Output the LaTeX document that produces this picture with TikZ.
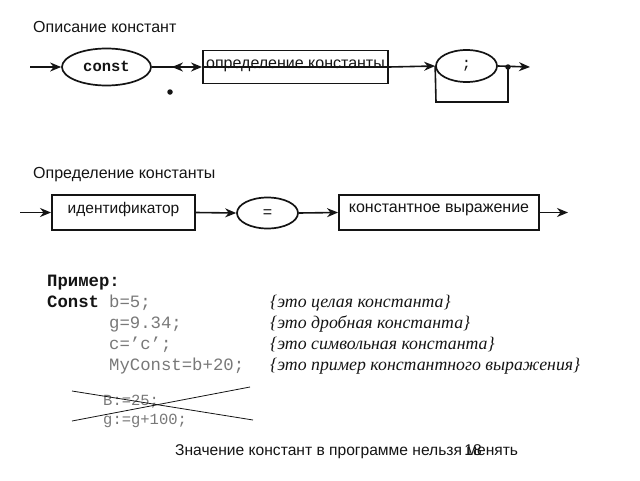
\documentclass[tikz,border=0pt]{standalone}
\usepackage{fontspec}
\setmainfont{Liberation Sans}
\newfontfamily\monof{Liberation Mono}
\newfontfamily\serift{Liberation Serif}
\usetikzlibrary{shapes.geometric,arrows.meta,decorations.markings}
\definecolor{codegray}{RGB}{120,120,120}
\definecolor{ink}{RGB}{20,20,20}
\begin{document}
\begin{tikzpicture}[x=1pt,y=-1pt,
  tip/.tip={Stealth[length=11pt,width=9pt,inset=3.5pt]},
  conn/.style={draw=ink,line width=1.6pt,-tip},
  plain/.style={draw=ink,line width=1.6pt},
  boxn/.style={draw=ink,line width=1.9pt,rectangle,inner sep=0pt},
  ell/.style={draw=ink,line width=1.7pt,ellipse,inner sep=0pt},
  lbl/.style={font=\fontsize{16}{19}\selectfont,text=ink,inner sep=0pt},
  code/.style={font=\monof\fontsize{17.3}{20}\selectfont,text=codegray,anchor=base west,inner sep=0pt},
  codeb/.style={font=\monof\bfseries\fontsize{17.3}{20}\selectfont,text=ink,anchor=base west,inner sep=0pt},
  cmt/.style={font=\serift\itshape\fontsize{17.8}{20}\selectfont,text=ink,anchor=base west,inner sep=0pt},
  small/.style={font=\monof\fontsize{15.5}{18}\selectfont,text=codegray,anchor=base west,inner sep=0pt},
  dotn/.style={circle,fill=ink,inner sep=0pt,minimum size=5.5pt}
]
\useasboundingbox (0,0) rectangle (640,480);

% ---- heading 1
\node[lbl,anchor=base west] (h1) at (33,32) {Описание констант};

% ---- row 1
\node[ell,minimum width=89pt,minimum height=37pt] (const) at (106.5,67) {};
\node[font=\monof\bfseries\fontsize{15.5}{18}\selectfont,text=ink,inner sep=0pt] (constt) at (106.5,66) {const};
\node[boxn,minimum width=185pt,minimum height=33pt] (def) at (295.5,67) {};
\node[lbl,anchor=base] (deft) at (295.5,68) {определение константы};
\node[ell,minimum width=61pt,minimum height=32pt] (semi) at (466.5,66) {};
\node[font=\monof\fontsize{15.5}{18}\selectfont,text=ink,inner sep=0pt] (semit) at (466.5,66) {;};
\coordinate (in1) at (30,67);
\coordinate (out1) at (530,67);
\coordinate (j1) at (508,67);
\coordinate (lb) at (508,102);
\coordinate (la) at (436,102);
\node[dotn] (d1) at (j1) {};
\node[dotn] (d2) at (170,92) {};

\draw[conn] (in1) -- (const.west);
\draw[conn,postaction={decorate},decoration={markings,mark=at position 0.4 with {\arrowreversed[line width=1.6pt]{tip}}}] (const.east) -- (def.west);
\draw[plain] (def.west) -- (def.east);
\draw[conn] (def.east) -- (semi.west);
\draw[conn] (semi.east) -- (out1);
\draw[plain] (j1) -- (lb) -- (la) -- (semi.west);

% ---- heading 2
\node[lbl,anchor=base west] (h2) at (33,178) {Определение константы};

% ---- row 2
\node[boxn,minimum width=143pt,minimum height=35pt] (ident) at (123.5,212.5) {};
\node[lbl,anchor=base,font=\fontsize{15.5}{19}\selectfont] (identt) at (123.5,213) {идентификатор};
\node[ell,minimum width=61pt,minimum height=31pt] (eq) at (267.5,213) {};
\node[lbl] (eqt) at (267.5,214) {=};
\node[boxn,minimum width=200pt,minimum height=35pt] (expr) at (439,212.5) {};
\node[lbl,anchor=base] (exprt) at (439,212) {константное выражение};
\coordinate (in2) at (20,212.5);
\coordinate (out2) at (568,212.5);
\draw[conn] (in2) -- (ident.west);
\draw[conn] (ident.east) -- (eq.west);
\draw[conn] (eq.east) -- (expr.west);
\draw[conn] (expr.east) -- (out2);

% ---- example
\node[codeb] (ex) at (47,286) {Пример:};
\node[codeb] (c1) at (47,307) {Const};
\node[code] (c1b) at (109,307) {b=5;};
\node[code] (c2) at (109,328) {g=9.34;};
\node[code] (c3) at (109,349) {c=’c’;};
\node[code] (c4) at (109,370) {MyConst=b+20;};
\node[cmt] (m1) at (270,307) {\{это целая константа\}};
\node[cmt] (m2) at (270,328) {\{это дробная константа\}};
\node[cmt] (m3) at (270,349) {\{это символьная константа\}};
\node[cmt] (m4) at (270,370) {\{это пример константного выражения\}};

% ---- crossed out
\node[small] (x1) at (103,405) {B:=25;};
\node[small] (x2) at (103,424) {g:=g+100;};
\coordinate (ca) at (72,391);
\coordinate (cb) at (253,420);
\coordinate (cc) at (72,421);
\coordinate (cd) at (250,387);
\draw[draw=ink,line width=0.8pt] (ca) -- (cb);
\draw[draw=ink,line width=0.8pt] (cc) -- (cd);

% ---- bottom note
\node[lbl,anchor=base west,font=\fontsize{15.6}{19}\selectfont] (note) at (175,455) {Значение констант в программе нельзя менять};
\node[lbl,anchor=base,font=\fontsize{15.6}{19}\selectfont] (pg) at (473,455) {18};
\end{tikzpicture}
\end{document}
